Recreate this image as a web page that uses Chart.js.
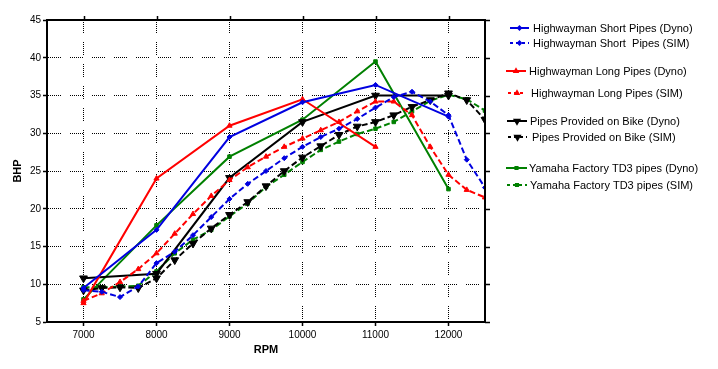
<!DOCTYPE html>
<html>
<head>
<meta charset="utf-8">
<script src="https://cdn.jsdelivr.net/npm/chart.js@4.4.0/dist/chart.umd.min.js"></script>
<style>
  html, body { margin: 0; padding: 0; background: #fff; }
  canvas { display: block; }
</style>
</head>
<body>
<canvas id="chart" width="718" height="369"></canvas>
<script>
// rpm values where the dyno was read, and the SIM steps
const rpmDyno = [7000, 8000, 9000, 10000, 11000, 12000];
const rpmSim = [7000, 7250, 7500, 7750, 8000, 8250, 8500, 8750, 9000, 9250, 9500, 9750,
    10000, 10250, 10500, 10750, 11000, 11250, 11500, 11750, 12000, 12250, 12500];
const xTicks = [7000, 8000, 9000, 10000, 11000, 12000];

// BHP
const shortDyno = [9.5, 17.2, 29.5, 34.1, 36.4, 32.2];
const shortSim = [9.2, 9.0, 8.3, 9.7, 12.8, 14.3, 16.5, 18.9, 21.3, 23.3, 25.0, 26.7,
    28.2, 29.5, 30.6, 31.9, 33.4, 34.8, 35.5, 34.2, 32.4, 26.5, 22.8];
const longDyno = [7.5, 24.0, 31.0, 34.5, 28.2];
const longSim = [7.8, 8.8, 10.3, 12.0, 14.1, 16.7, 19.3, 21.7, 23.8, 25.5, 26.9, 28.2,
    29.3, 30.4, 31.5, 32.9, 34.2, 34.2, 32.4, 28.2, 24.5, 22.5, 21.5];
const bikeDyno = [10.8, 11.4, 24.1, 31.5, 35.0, 35.0];
const bikeSim = [9.2, 9.5, 9.6, 9.5, 10.8, 13.2, 15.4, 17.4, 19.2, 20.9, 23.0, 25.0,
    26.8, 28.3, 29.8, 30.9, 31.5, 32.4, 33.5, 34.4, 35.3, 34.4, 31.8];
const td3Dyno = [8.0, 17.8, 26.9, 31.8, 39.5, 22.6];
const td3Sim = [9.6, 9.6, 9.7, 9.8, 11.7, 14.1, 15.9, 17.2, 19.0, 20.7, 22.9, 24.5,
    26.2, 27.8, 28.9, 29.9, 30.6, 31.5, 32.9, 34.3, 35.1, 34.5, 33.0];

const labels = [
    'Highwayman Short Pipes (Dyno)',
    'Highwayman Short  Pipes (SIM)',
    'Highwayman Long Pipes (Dyno)',
    'Highwayman Long Pipes (SIM)',
    'Pipes Provided on Bike (Dyno)',
    'Pipes Provided on Bike (SIM)',
    'Yamaha Factory TD3 pipes (Dyno)',
    'Yamaha Factory TD3 pipes (SIM)'
];

const BLUE = '#0000e0';
const RED = '#ff0000';
const BLACK = '#000000';
const GREEN = '#008000';
const DASH = [6, 3];

function pts(xs, ys) {
    return ys.map((y, i) => ({ x: xs[i], y: y }));
}

function series(label, xs, ys, color, dashed, style, radius, rotation) {
    return {
        label: label,
        data: pts(xs, ys),
        borderColor: color,
        backgroundColor: color,
        borderWidth: 2,
        borderDash: dashed ? DASH : [],
        pointStyle: style,
        pointRadius: radius,
        pointRotation: rotation || 0,
        pointBackgroundColor: color,
        pointBorderColor: color,
        pointBorderWidth: 1,
        tension: 0,
        fill: false
    };
}

const datasets = [
    series(labels[0], rpmDyno, shortDyno, BLUE, false, 'rectRot', 2.5),
    series(labels[1], rpmSim, shortSim, BLUE, true, 'rectRot', 2.5),
    series(labels[2], rpmDyno, longDyno, RED, false, 'triangle', 3),
    series(labels[3], rpmSim, longSim, RED, true, 'triangle', 3),
    series(labels[4], rpmDyno, bikeDyno, BLACK, false, 'triangle', 4.5, 180),
    series(labels[5], rpmSim, bikeSim, BLACK, true, 'triangle', 4.5, 180),
    series(labels[6], rpmDyno, td3Dyno, GREEN, false, 'rect', 2.5),
    series(labels[7], rpmSim, td3Sim, GREEN, true, 'rect', 2.5)
];

// legend rows: y centre, line start/end, text start
const legendRows = [
    [28, 510, 529, 533],
    [43, 510, 529, 533],
    [71, 506, 526, 529],
    [93, 508, 526, 531],
    [121, 507, 527, 530],
    [137, 508, 527, 532],
    [168, 506, 527, 529],
    [185, 507, 527, 530]
];

const gridDash = [1, 1, 1, 1, 1, 1, 1, 1, 1, 1, 1, 1, 1, 9];

// top and right border with outward ticks
const framePlugin = {
    id: 'frame',
    afterDraw(chart) {
        const c = chart.ctx;
        const a = chart.chartArea;
        const xs = chart.scales.x;
        const ys = chart.scales.y;
        c.save();
        c.strokeStyle = '#000';
        c.lineWidth = 2;
        c.setLineDash([]);
        c.beginPath();
        c.moveTo(a.left - 1, a.top);
        c.lineTo(a.right + 1, a.top);
        c.moveTo(a.right, a.top);
        c.lineTo(a.right, a.bottom + 1);
        c.stroke();
        c.lineWidth = 1.5;
        c.beginPath();
        xTicks.forEach(v => {
            const px = Math.round(xs.getPixelForValue(v)) + 0.5;
            c.moveTo(px, a.top);
            c.lineTo(px, a.top - 4);
        });
        ys.ticks.forEach(t => {
            const py = Math.round(ys.getPixelForValue(t.value)) + 0.5;
            c.moveTo(a.right, py);
            c.lineTo(a.right + 5, py);
        });
        c.stroke();
        c.restore();
    }
};

const legendPlugin = {
    id: 'sideLegend',
    afterDraw(chart) {
        const c = chart.ctx;
        c.save();
        c.font = '11px "Liberation Sans", Arial, sans-serif';
        c.textBaseline = 'middle';
        c.textAlign = 'left';
        chart.data.datasets.forEach((ds, i) => {
            const r = legendRows[i];
            c.strokeStyle = ds.borderColor;
            c.lineWidth = 2;
            c.setLineDash(ds.borderDash.length ? [3, 3] : []);
            c.beginPath();
            c.moveTo(r[1], r[0]);
            c.lineTo(r[2], r[0]);
            c.stroke();
            c.setLineDash([]);
            c.fillStyle = ds.borderColor;
            Chart.helpers.drawPoint(c, {
                pointStyle: ds.pointStyle,
                radius: ds.pointRadius * 0.6,
                rotation: ds.pointRotation,
                borderWidth: 1
            }, (r[1] + r[2]) / 2, r[0]);
            c.fillStyle = '#000';
            c.fillText(ds.label, r[3], r[0] + 0.5);
        });
        c.restore();
    }
};

const ctx = document.getElementById('chart').getContext('2d');
const bhpChart = new Chart(ctx, {
    type: 'line',
    data: { datasets: datasets },
    options: {
        responsive: false,
        animation: false,
        layout: { padding: { left: 0, top: 20, right: 233, bottom: 0 } },
        plugins: {
            legend: { display: false },
            tooltip: { enabled: false }
        },
        scales: {
            x: {
                type: 'linear',
                min: 6500,
                max: 12500,
                afterBuildTicks: (s) => { s.ticks = xTicks.map(v => ({ value: v })); },
                afterFit: (s) => { s.height = 47; },
                grid: {
                    color: '#000',
                    lineWidth: 1,
                    tickLength: 4,
                    tickColor: '#000',
                    tickWidth: 1.5,
                    tickBorderDash: []
                },
                border: { display: true, color: '#000', width: 2, dash: gridDash },
                ticks: {
                    color: '#000',
                    padding: 3,
                    maxRotation: 0,
                    font: { family: '"Liberation Sans", Arial', size: 10 },
                    callback: (v) => String(v)
                },
                title: {
                    display: true,
                    text: 'RPM',
                    color: '#000',
                    padding: { top: 0, bottom: 12 },
                    font: { family: '"Liberation Sans", Arial', size: 11, weight: 'bold' }
                }
            },
            y: {
                min: 5,
                max: 45,
                afterFit: (s) => { s.width = 47; },
                grid: {
                    color: '#000',
                    lineWidth: 1,
                    tickLength: 4,
                    tickColor: '#000',
                    tickWidth: 1.5,
                    tickBorderDash: []
                },
                border: { display: true, color: '#000', width: 2, dash: gridDash },
                ticks: {
                    stepSize: 5,
                    color: '#000',
                    padding: 2,
                    font: { family: '"Liberation Sans", Arial', size: 10 }
                },
                title: {
                    display: true,
                    text: 'BHP',
                    color: '#000',
                    padding: { top: 11, bottom: 0 },
                    font: { family: '"Liberation Sans", Arial', size: 11, weight: 'bold' }
                }
            }
        }
    },
    plugins: [framePlugin, legendPlugin]
});
</script>
</body>
</html>
